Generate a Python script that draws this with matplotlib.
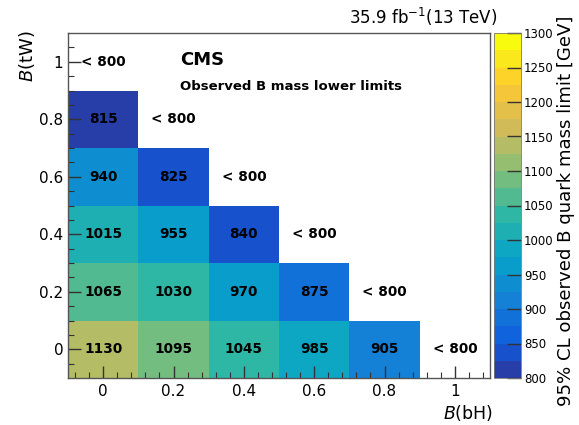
import numpy as np
import matplotlib
matplotlib.use('Agg')
import matplotlib.pyplot as plt
import matplotlib.colors as colors

# Branching fraction grid (bin centres)
bh_values = [0.0, 0.2, 0.4, 0.6, 0.8, 1.0]
tw_values = [0.0, 0.2, 0.4, 0.6, 0.8, 1.0]

# Observed lower mass limits [GeV], one row per B(tW); None = below 800 GeV
limits = [
    [1130, 1095, 1045, 985, 905, None],   # B(tW) = 0
    [1065, 1030, 970, 875, None],         # B(tW) = 0.2
    [1015, 955, 840, None],               # B(tW) = 0.4
    [940, 825, None],                     # B(tW) = 0.6
    [815, None],                          # B(tW) = 0.8
    [None],                               # B(tW) = 1
]

z_min, z_max, n_cont = 800, 1300, 20
cbar_ticks = [800, 850, 900, 950, 1000, 1050, 1100, 1150, 1200, 1250, 1300]

lumi_text = r'35.9 fb$^{-1}$(13 TeV)'
cb_label = '95% CL observed B quark mass limit [GeV]'

# ROOT kBird palette
stops = [0.0, 0.125, 0.25, 0.375, 0.5, 0.625, 0.75, 0.875, 1.0]
red = [0.2082, 0.0592, 0.0780, 0.0232, 0.1802, 0.5301, 0.8186, 0.9956, 0.9764]
green = [0.1664, 0.3599, 0.5041, 0.6419, 0.7178, 0.7492, 0.7328, 0.7862, 0.9832]
blue = [0.5293, 0.8684, 0.8385, 0.7914, 0.6425, 0.4662, 0.3499, 0.1968, 0.0539]
bird = colors.LinearSegmentedColormap.from_list(
    'bird', list(zip(stops, zip(red, green, blue))), N=255)
band_cols = [bird((i + 0.99) / n_cont) for i in range(n_cont)]
cmap = colors.ListedColormap(band_cols)
cmap.set_bad('white')
levels = np.linspace(z_min, z_max, n_cont + 1)
norm = colors.BoundaryNorm(levels, cmap.N)

# Fill a masked 2D array from the rows
grid = np.full((len(tw_values), len(bh_values)), np.nan)
for iy, row in enumerate(limits):
    for ix, v in enumerate(row):
        if v is not None:
            grid[iy, ix] = v
grid = np.ma.masked_invalid(grid)

x_edges = np.append(np.array(bh_values) - 0.1, bh_values[-1] + 0.1)
y_edges = np.append(np.array(tw_values) - 0.1, tw_values[-1] + 0.1)

W, H = 579, 425
fig = plt.figure(figsize=(W / 100, H / 100), dpi=100)
ax = fig.add_axes([68 / W, 47 / H, 422 / W, 345 / H])
cax = fig.add_axes([494 / W, 47 / H, 27 / W, 345 / H])

mesh = ax.pcolormesh(x_edges, y_edges, grid, cmap=cmap, norm=norm)
ax.set_xlim(-0.1, 1.1)
ax.set_ylim(-0.1, 1.1)

# Cell labels
for iy, row in enumerate(limits):
    for ix, v in enumerate(row):
        txt = '< 800' if v is None else str(v)
        ax.text(bh_values[ix], tw_values[iy], txt, ha='center', va='center',
                fontsize=9.8, fontweight='bold', color='black')

ax.set_xticks([0, 0.2, 0.4, 0.6, 0.8, 1.0])
ax.set_xticklabels(['0', '0.2', '0.4', '0.6', '0.8', '1'])
ax.set_yticks([0, 0.2, 0.4, 0.6, 0.8, 1.0])
ax.set_yticklabels(['0', '0.2', '0.4', '0.6', '0.8', '1'])
ax.set_xticks(np.arange(-0.08, 1.1, 0.04), minor=True)
ax.set_yticks(np.arange(-0.05, 1.1, 0.05), minor=True)
ax.tick_params(which='both', direction='in', top=False, right=False,
               labelsize=11, color='#333333')
ax.tick_params(which='major', length=9, width=1)
ax.tick_params(which='minor', length=4.5, width=0.8)
ax.tick_params(axis='x', pad=4)
for s in ax.spines.values():
    s.set_color('#555555')
    s.set_linewidth(1.0)

# Axis titles
fig.text(27 / W, 1 - 30 / H, r'$B$(tW)', rotation=90, ha='center', va='top', fontsize=13)
fig.text(493 / W, 1 - 413 / H, r'$B$(bH)', ha='right', va='center', fontsize=12.5)

# CMS labels
ax.text(180 / W, 1 - 60 / H, 'CMS', transform=fig.transFigure, fontsize=13,
        fontweight='bold', va='center')
ax.text(180 / W, 1 - 87 / H, 'Observed B mass lower limits', transform=fig.transFigure,
        fontsize=9.5, fontweight='bold', va='center')
fig.text(497 / W, 1 - 17 / H, lumi_text, ha='right', va='center', fontsize=12)

# Palette axis
cb = fig.colorbar(mesh, cax=cax, ticks=cbar_ticks)
cb.outline.set_linewidth(0.6)
cb.outline.set_edgecolor('#777777')
cax.tick_params(direction='in', length=10, width=1, labelsize=8.5, pad=2, color='#333333')
cax.yaxis.set_tick_params(which='minor', length=0)
cax.text(566 / W, 1 - 211 / H, cb_label, transform=fig.transFigure, rotation=90,
         ha='center', va='center', fontsize=13.1)

fig.savefig('out.png', dpi=100)
